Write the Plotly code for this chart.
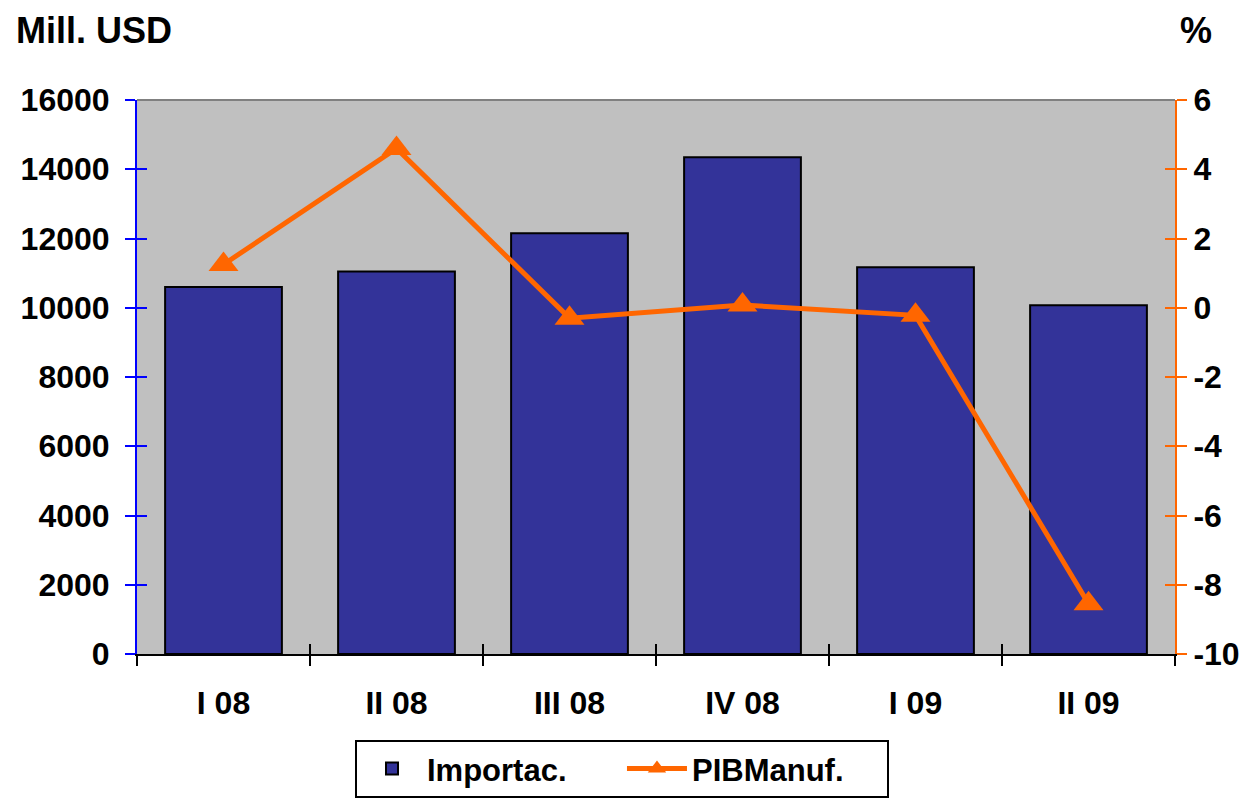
import plotly.graph_objects as go

categories = ["I 08", "II 08", "III 08", "IV 08", "I 09", "II 09"]
importac = [10600, 11050, 12150, 14350, 11170, 10070]
pib_manuf = [1.25, 4.6, -0.3, 0.08, -0.22, -8.55]
left_ticks = [0, 2000, 4000, 6000, 8000, 10000, 12000, 14000, 16000]
right_ticks = [-10, -8, -6, -4, -2, 0, 2, 4, 6]

FONT = "Liberation Sans, Arial, Helvetica, sans-serif"
BLUE_BAR = "#333399"
ORANGE = "#FF6600"

fig = go.Figure()

fig.add_trace(go.Bar(
    x=categories, y=importac, name="<b>Importac.</b>",
    marker=dict(color=BLUE_BAR, line=dict(color="black", width=2)),
    xaxis="x", yaxis="y",
))
fig.add_trace(go.Scatter(
    x=categories, y=pib_manuf, name="<b>PIBManuf.</b>", mode="lines+markers",
    line=dict(color=ORANGE, width=5),
    marker=dict(symbol="triangle-up", size=26, color=ORANGE),
    xaxis="x", yaxis="y2",
))
# invisible helper traces so overlay axes (inner tick halves) are drawn
fig.add_trace(go.Scatter(
    x=categories, y=importac, mode="markers", marker=dict(opacity=0),
    showlegend=False, hoverinfo="skip", xaxis="x3", yaxis="y3",
))
fig.add_trace(go.Scatter(
    x=categories, y=pib_manuf, mode="markers", marker=dict(opacity=0),
    showlegend=False, hoverinfo="skip", xaxis="x3", yaxis="y4",
))

tickfont = dict(family=FONT, size=32, color="black")

fig.update_layout(
    width=1241, height=801,
    margin=dict(l=129, r=74, t=92, b=155, autoexpand=False),
    paper_bgcolor="white", plot_bgcolor="#C0C0C0",
    bargap=0.325,
    showlegend=True,
    legend=dict(
        orientation="h", x=0.21, xanchor="left", y=-0.155, yanchor="top",
        bordercolor="black", borderwidth=2, bgcolor="white",
        font=dict(family=FONT, size=31, color="black"),
        itemwidth=60, entrywidth=190,
    ),
    xaxis=dict(
        type="category", categoryorder="array", categoryarray=categories,
        range=[-0.5, 5.5], showline=True, linecolor="black", linewidth=2,
        ticks="outside", tickson="boundaries", ticklen=10, tickcolor="black", tickwidth=1.5,
        tickfont=tickfont, ticklabelstandoff=20, showgrid=False, zeroline=False,
        tickprefix="<b>", ticksuffix="</b>",
    ),
    xaxis3=dict(
        type="category", categoryorder="array", categoryarray=categories,
        overlaying="x", anchor="y3", side="bottom",
        range=[-0.5, 5.5], showline=False,
        ticks="inside", tickson="boundaries", ticklen=10, tickcolor="black", tickwidth=1.5,
        showticklabels=False, showgrid=False, zeroline=False,
    ),
    yaxis=dict(
        range=[0, 16000], tickvals=left_ticks, ticktext=[f"<b>{v}</b>" for v in left_ticks],
        showline=True, linecolor="blue", linewidth=2,
        ticks="outside", ticklen=10, tickcolor="blue", tickwidth=2,
        tickfont=tickfont, ticklabelstandoff=9, showgrid=False, zeroline=False,
    ),
    yaxis3=dict(
        range=[0, 16000], tickvals=left_ticks, overlaying="y", anchor="x3", side="left",
        showline=False, ticks="inside", ticklen=10, tickcolor="blue", tickwidth=2,
        showticklabels=False, showgrid=False, zeroline=False,
    ),
    yaxis2=dict(
        range=[-10, 6], tickvals=right_ticks, ticktext=[f"<b>{v}</b>" for v in right_ticks],
        overlaying="y", anchor="x", side="right",
        showline=True, linecolor=ORANGE, linewidth=2,
        ticks="outside", ticklen=10, tickcolor=ORANGE, tickwidth=2,
        tickfont=tickfont, showgrid=False, zeroline=False,
    ),
    yaxis4=dict(
        range=[-10, 6], tickvals=right_ticks, overlaying="y", anchor="x3", side="right",
        showline=False, ticks="inside", ticklen=10, tickcolor=ORANGE, tickwidth=2,
        showticklabels=False, showgrid=False, zeroline=False,
    ),
    shapes=[dict(type="line", xref="paper", yref="paper", x0=0, x1=1, y0=1, y1=1,
                 line=dict(color="#808080", width=2))],
    annotations=[
        dict(text="<b>Mill. USD</b>", xref="paper", yref="paper", x=-0.118, y=1.164,
             xanchor="left", yanchor="top", showarrow=False, borderpad=0,
             font=dict(family=FONT, size=36, color="black")),
        dict(text="<b>%</b>", xref="paper", yref="paper", x=1.0035, y=1.164,
             xanchor="left", yanchor="top", showarrow=False, borderpad=0,
             font=dict(family=FONT, size=36, color="black")),
    ],
)

fig.write_html("out.html")
